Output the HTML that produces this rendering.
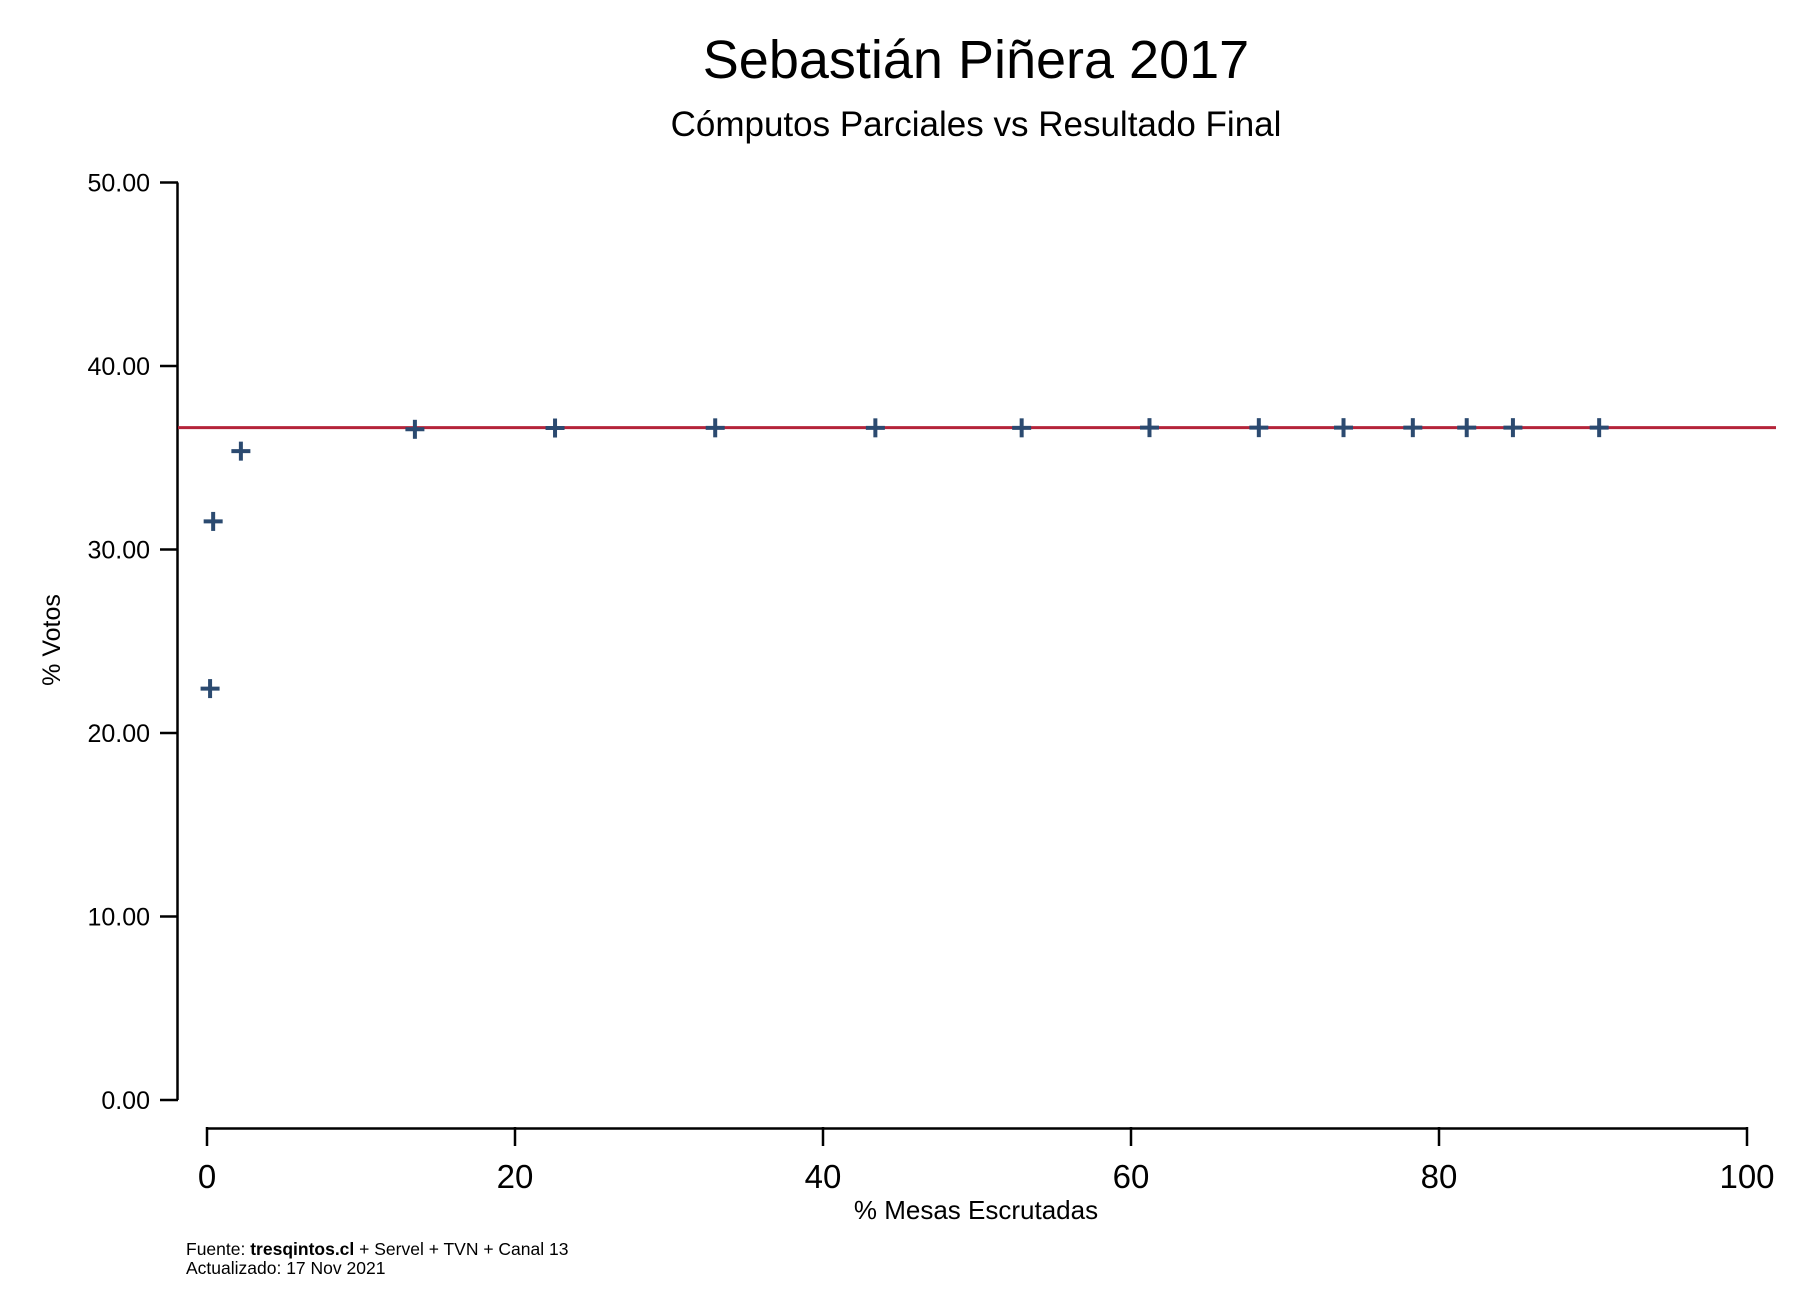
<!DOCTYPE html>
<html><head><meta charset="utf-8"><style>
html,body{margin:0;padding:0;background:#fff;}
svg{display:block;font-family:"Liberation Sans",Arial,sans-serif;}
</style></head><body>
<svg id="chart" width="1806" height="1314" viewBox="0 0 1806 1314">
<text x="976" y="78" text-anchor="middle" font-size="54" fill="#000">Sebastián Piñera 2017</text>
<text x="976" y="136" text-anchor="middle" font-size="35" fill="#000">Cómputos Parciales vs Resultado Final</text>
<g id="yaxis"></g>
<g id="xaxis"></g>
<g id="marks"></g>
<text transform="translate(60,640) rotate(-90)" text-anchor="middle" font-size="25">% Votos</text>
<text x="976" y="1219" text-anchor="middle" font-size="26">% Mesas Escrutadas</text>
<text x="186" y="1255" font-size="17.5">Fuente: <tspan font-weight="bold">tresqintos.cl</tspan> + Servel + TVN + Canal 13</text>
<text x="186" y="1274" font-size="17.5">Actualizado: 17 Nov 2021</text>
</svg>
<script>
const xTicks = [0, 20, 40, 60, 80, 100];
const yTicks = [0, 10, 20, 30, 40, 50];
const yTickLabels = ["0.00", "10.00", "20.00", "30.00", "40.00", "50.00"];
const mesas = [0.2, 0.4, 2.2, 13.5, 22.6, 33.0, 43.4, 52.9, 61.2, 68.3, 73.8, 78.3, 81.8, 84.8, 90.4];
const votos = [22.42, 31.53, 35.36, 36.55, 36.62, 36.63, 36.63, 36.63, 36.64, 36.64, 36.64, 36.64, 36.64, 36.64, 36.64];
const finalResult = [36.64];

const NS = "http://www.w3.org/2000/svg";
const X = v => 207 + v * 15.4;
const Y = v => 1100 - v * 18.35;
function mk(tag, attrs, parent, text) {
  const e = document.createElementNS(NS, tag);
  for (const k in attrs) e.setAttribute(k, attrs[k]);
  if (text !== undefined) e.textContent = text;
  parent.appendChild(e);
  return e;
}
const ya = document.getElementById('yaxis');
const xa = document.getElementById('xaxis');
const mg = document.getElementById('marks');

let yl = mk('line', {x1: 177.5, x2: 177.5, y1: Y(50), y2: Y(0), stroke: '#000', 'stroke-width': 2.5}, ya);


yTicks.forEach((t, i) => {
  const tk = mk('line', {x1: 160, x2: 178, y1: Y(t), y2: Y(t), stroke: '#000', 'stroke-width': 2.5}, ya);
  
  
  const lb = mk('text', {x: 150, y: Y(t) + 9, 'text-anchor': 'end', 'font-size': 25}, ya, yTickLabels[i]);
  
  
});

let xl = mk('line', {x1: X(0), x2: X(100), y1: 1128.5, y2: 1128.5, stroke: '#000', 'stroke-width': 2.5}, xa);


xTicks.forEach(t => {
  const tk = mk('line', {x1: X(t), x2: X(t), y1: 1127, y2: 1146, stroke: '#000', 'stroke-width': 2.5}, xa);
  
  
  const lb = mk('text', {x: X(t), y: 1188, 'text-anchor': 'middle', 'font-size': 33}, xa, String(t));
  
  
});

const ref = mk('line', {x1: 178, x2: 1776, y1: Y(finalResult[0]), y2: Y(finalResult[0]), stroke: '#b5243a', 'stroke-width': 3}, mg);



mesas.forEach((m, i) => {
  const cx = X(m), cy = Y(votos[i]);
  const g = mk('g', {stroke: '#2b4a70', 'stroke-width': 4}, mg);
  
  
  mk('line', {x1: cx - 9.5, x2: cx + 9.5, y1: cy, y2: cy}, g);
  mk('line', {x1: cx, x2: cx, y1: cy - 9.5, y2: cy + 9.5}, g);
});
</script>
</body></html>
